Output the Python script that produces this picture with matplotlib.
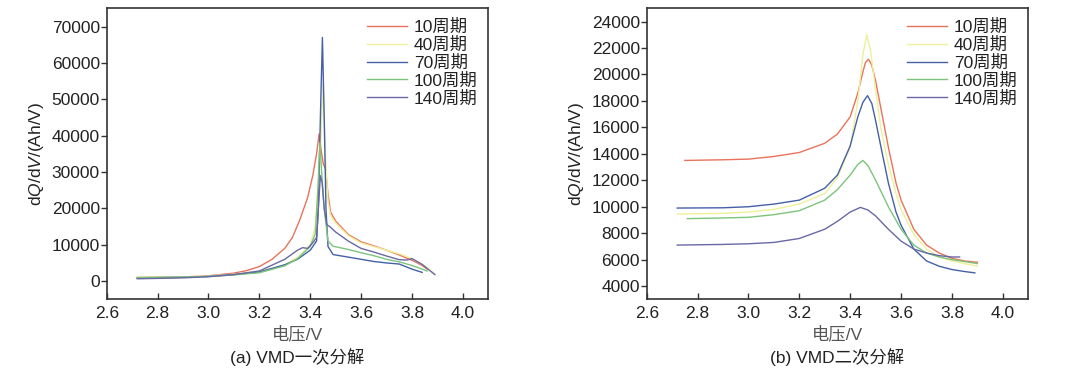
import matplotlib
matplotlib.use("Agg")
import matplotlib.pyplot as plt

plt.rcParams['font.family'] = ['Liberation Sans', 'Noto Sans CJK SC', 'DejaVu Sans']
plt.rcParams['mathtext.fontset'] = 'custom'
plt.rcParams['mathtext.it'] = 'Liberation Sans:italic'
plt.rcParams['mathtext.rm'] = 'Liberation Sans'

labels = ['10周期', '40周期', '70周期', '100周期', '140周期']
colors = ['#e8735c', '#eef09a', '#4460a8', '#7cc47c', '#6868a4']

# ---- (a) VMD first decomposition ----
a_v10 = [2.72, 2.8, 2.9, 3.0, 3.1, 3.15, 3.2, 3.25, 3.3, 3.33, 3.36, 3.39, 3.41, 3.425, 3.435, 3.443, 3.452, 3.46, 3.47, 3.48, 3.5, 3.55, 3.6, 3.65, 3.7, 3.75, 3.78, 3.81, 3.84, 3.86]
a_q10 = [1000, 1050, 1150, 1450, 2200, 2900, 4000, 6000, 9000, 12000, 17000, 23000, 29000, 35000, 40500, 36000, 32000, 31000, 24000, 19000, 16500, 12800, 10800, 9700, 8500, 7200, 6300, 5400, 4300, 3300]
a_v40 = [2.72, 2.8, 2.9, 3.0, 3.1, 3.2, 3.3, 3.35, 3.4, 3.42, 3.435, 3.443, 3.45, 3.455, 3.462, 3.47, 3.48, 3.5, 3.55, 3.6, 3.65, 3.7, 3.75, 3.8, 3.85, 3.89]
a_q40 = [1000, 1050, 1150, 1400, 1900, 2600, 4500, 6500, 10000, 15000, 30000, 40000, 54000, 45000, 32000, 22000, 18000, 16000, 12500, 10500, 9500, 8500, 7500, 6200, 4200, 2000]
a_v70 = [2.72, 2.8, 2.9, 3.0, 3.1, 3.2, 3.3, 3.35, 3.4, 3.425, 3.432, 3.44, 3.448, 3.455, 3.462, 3.47, 3.49, 3.55, 3.6, 3.65, 3.7, 3.75, 3.8, 3.84]
a_q70 = [900, 950, 1050, 1300, 1800, 2500, 4500, 6000, 8500, 11000, 20000, 45000, 67000, 45000, 20000, 9500, 7300, 6600, 6000, 5400, 5000, 4700, 3300, 2400]
a_v100 = [2.72, 2.8, 2.9, 3.0, 3.1, 3.2, 3.3, 3.35, 3.4, 3.42, 3.43, 3.438, 3.445, 3.455, 3.47, 3.49, 3.55, 3.6, 3.65, 3.7, 3.75, 3.8, 3.86]
a_q100 = [1000, 1050, 1100, 1300, 1700, 2300, 4200, 6200, 9500, 13000, 25000, 38000, 30000, 20000, 11000, 9600, 8700, 7800, 7000, 6000, 5300, 4300, 2800]
a_v140 = [2.72, 2.8, 2.9, 3.0, 3.1, 3.2, 3.3, 3.35, 3.37, 3.39, 3.41, 3.425, 3.432, 3.44, 3.447, 3.455, 3.465, 3.477, 3.5, 3.55, 3.6, 3.65, 3.7, 3.75, 3.78, 3.8, 3.84, 3.89]
a_q140 = [650, 750, 900, 1200, 1800, 2800, 6000, 8500, 9200, 9000, 10500, 12000, 20000, 29000, 27000, 20000, 15500, 15000, 13500, 11000, 9000, 8000, 6900, 5900, 5800, 6200, 4600, 1800]

# ---- (b) VMD second decomposition ----
b_v10 = [2.75, 2.9, 3.0, 3.1, 3.2, 3.3, 3.35, 3.4, 3.43, 3.45, 3.46, 3.472, 3.485, 3.5, 3.52, 3.55, 3.58, 3.6, 3.65, 3.7, 3.75, 3.8, 3.85, 3.9]
b_q10 = [13500, 13550, 13600, 13800, 14100, 14800, 15500, 16800, 18600, 20200, 20900, 21150, 20700, 19500, 17500, 14500, 11800, 10500, 8300, 7100, 6500, 6100, 5900, 5800]
b_v40 = [2.72, 2.9, 3.0, 3.1, 3.2, 3.3, 3.35, 3.4, 3.43, 3.45, 3.465, 3.48, 3.5, 3.52, 3.55, 3.58, 3.6, 3.65, 3.7, 3.75, 3.8, 3.85, 3.9]
b_q40 = [9450, 9500, 9600, 9800, 10200, 11000, 12200, 14500, 18000, 21500, 23000, 21800, 18800, 16000, 13200, 11000, 9800, 7900, 6800, 6200, 5900, 5700, 5500]
b_v70 = [2.72, 2.9, 3.0, 3.1, 3.2, 3.3, 3.35, 3.4, 3.43, 3.45, 3.468, 3.485, 3.5, 3.52, 3.55, 3.58, 3.6, 3.65, 3.7, 3.75, 3.8, 3.85, 3.89]
b_q70 = [9900, 9920, 10000, 10200, 10500, 11400, 12400, 14600, 16800, 17900, 18400, 17800, 16500, 14600, 11800, 9600, 8600, 6800, 5900, 5500, 5250, 5100, 5000]
b_v100 = [2.76, 2.9, 3.0, 3.1, 3.2, 3.3, 3.35, 3.4, 3.43, 3.45, 3.47, 3.5, 3.55, 3.6, 3.65, 3.7, 3.75, 3.8, 3.85, 3.9]
b_q100 = [9100, 9150, 9200, 9400, 9700, 10500, 11300, 12400, 13200, 13500, 13100, 12000, 10000, 8300, 7100, 6500, 6200, 6000, 5850, 5700]
b_v140 = [2.72, 2.9, 3.0, 3.1, 3.2, 3.3, 3.35, 3.4, 3.44, 3.47, 3.5, 3.55, 3.6, 3.65, 3.7, 3.75, 3.8, 3.83]
b_q140 = [7100, 7150, 7200, 7300, 7600, 8300, 8900, 9600, 9950, 9750, 9300, 8300, 7400, 6800, 6500, 6300, 6200, 6200]

xticks = [2.6, 2.8, 3.0, 3.2, 3.4, 3.6, 3.8, 4.0]
a_yticks = [0, 10000, 20000, 30000, 40000, 50000, 60000, 70000]
b_yticks = [4000, 6000, 8000, 10000, 12000, 14000, 16000, 18000, 20000, 22000, 24000]

fig = plt.figure(figsize=(10.8, 3.74), dpi=100)
axA = fig.add_axes([0.0988, 0.1997, 0.3533, 0.778])
axB = fig.add_axes([0.5988, 0.1997, 0.3533, 0.778])

seriesA = [(a_v10, a_q10), (a_v40, a_q40), (a_v70, a_q70), (a_v100, a_q100), (a_v140, a_q140)]
seriesB = [(b_v10, b_q10), (b_v40, b_q40), (b_v70, b_q70), (b_v100, b_q100), (b_v140, b_q140)]

fs = 12.5
for ax, series, yt, ylim, cap in [
        (axA, seriesA, a_yticks, (-5000, 75000), '(a) VMD一次分解'),
        (axB, seriesB, b_yticks, (3000, 25000), '(b) VMD二次分解')]:
    for (v, q), lab, c in zip(series, labels, colors):
        ax.plot(v, q, color=c, lw=1.0, label=lab)
    ax.set_xlim(2.6, 4.1)
    ax.set_ylim(*ylim)
    ax.set_xticks(xticks)
    ax.set_xticklabels([f'{t:.1f}' for t in xticks], fontsize=fs, color='#222222')
    ax.set_yticks(yt)
    ax.set_yticklabels([str(t) for t in yt], fontsize=fs, color='#222222')
    ax.tick_params(axis='x', direction='in', length=4, width=1, color='#333333', pad=5)
    ax.tick_params(axis='y', direction='out', length=4, width=1, color='#333333', pad=1)
    for s in ax.spines.values():
        s.set_color('#333333')
        s.set_linewidth(1.2)
    ax.set_ylabel(r'd$\mathit{Q}$/d$\mathit{V}$/(Ah/V)', fontsize=fs, color='#222222', labelpad=4)
    ax.set_xlabel('电压/V', fontsize=fs, color='#555555', labelpad=3)
    ax.text(0.5, -0.2, cap, transform=ax.transAxes, ha='center', va='center',
            fontsize=fs, color='#222222')
    leg = ax.legend(loc='upper right', frameon=False, fontsize=fs, handlelength=2.3,
                    handletextpad=0.4, labelspacing=0.1, borderaxespad=0.2,
                    bbox_to_anchor=(1.0, 1.0))
    for t in leg.get_texts():
        t.set_color('#222222')

fig.savefig('out.png', dpi=100)
